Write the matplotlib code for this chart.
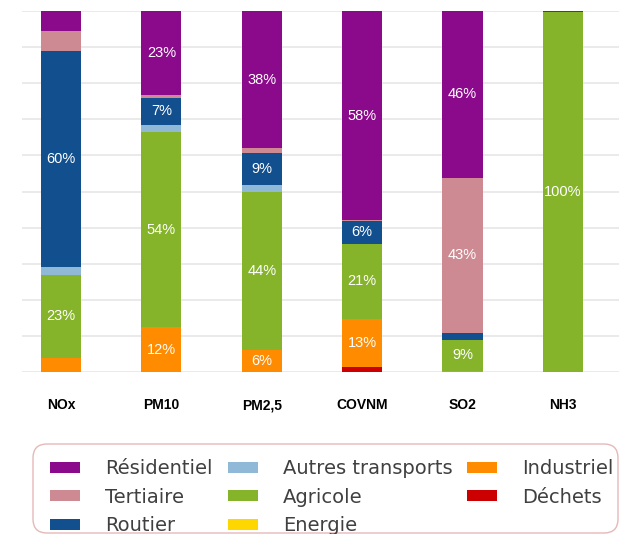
import numpy as np
import matplotlib
matplotlib.use("Agg")
import matplotlib.pyplot as plt
from matplotlib.patches import Patch, FancyBboxPatch
from matplotlib.transforms import IdentityTransform

# polluants (x axis)
polluants = ["NOx", "PM10", "PM2,5", "COVNM", "SO2", "NH3"]

# sectors, stacked from bottom to top
secteurs = ["Déchets", "Industriel", "Energie", "Agricole",
            "Autres transports", "Routier", "Tertiaire", "Résidentiel"]

# share of each sector (%) per polluant
dechets = [0, 0, 0, 1.5, 0, 0]
industriel = [4, 12.4, 6, 13.2, 0.3, 0]
energie = [0, 0, 0, 0, 0, 0]
agricole = [23, 54, 44, 20.8, 8.7, 99.7]
autres_transports = [2, 2.1, 1.7, 0, 0, 0]
routier = [60, 7.4, 9, 6.3, 1.8, 0.3]
tertiaire = [5.5, 0.7, 1.3, 0.2, 43, 0]
residentiel = [5.5, 23.4, 38, 58, 46.2, 0]

couleurs = {
    "Résidentiel": "#8b0a8b",
    "Tertiaire": "#cd8a92",
    "Routier": "#124f8e",
    "Autres transports": "#8fb9d6",
    "Agricole": "#85b32a",
    "Energie": "#ffd700",
    "Industriel": "#ff8c00",
    "Déchets": "#cc0000",
}

series = [dechets, industriel, energie, agricole,
          autres_transports, routier, tertiaire, residentiel]

W, H = 619, 534
fig = plt.figure(figsize=(W / 100, H / 100), dpi=100)
ax = fig.add_axes([22 / W, 162 / H, 597 / W, 361 / H])

x = np.arange(len(polluants))
bottom = np.zeros(len(polluants))
for nom, vals in zip(secteurs, series):
    vals = np.array(vals, dtype=float)
    ax.bar(x, vals, 0.4, bottom=bottom, color=couleurs[nom],
           edgecolor="none", zorder=2)
    for i, v in enumerate(vals):
        if v >= 5.9:
            ax.text(x[i], bottom[i] + v / 2, "%d%%" % round(v),
                    ha="center", va="center", color="white",
                    fontsize=10.5, family="Liberation Sans", zorder=3)
    bottom += vals

ax.set_xlim(-0.388, 5.558)
ax.set_ylim(0, 100)
ax.set_yticks(np.arange(0, 101, 10))
ax.yaxis.grid(True, color="#e6e6e6", linewidth=1.2, zorder=0)
ax.set_yticklabels([])
ax.tick_params(axis="y", length=0)
ax.set_xticks(x)
ax.set_xticklabels(polluants, fontsize=10, fontweight="bold",
                   family="Liberation Sans")
ax.tick_params(axis="x", length=0, pad=19)
for s in ax.spines.values():
    s.set_visible(False)

# rounded frame around the legend (pixel coords, origin bottom left)
cadre = FancyBboxPatch((33, 1), 585, 89,
                       boxstyle="round,pad=0,rounding_size=14",
                       transform=IdentityTransform(), facecolor="none",
                       edgecolor="#e6b8b8", linewidth=1.0)
fig.patches.append(cadre)

# legend: 3 columns, filled column by column
ordre = ["Résidentiel", "Tertiaire", "Routier", "Autres transports",
         "Agricole", "Energie", "Industriel", "Déchets"]
handles = [Patch(facecolor=couleurs[n], edgecolor="none") for n in ordre]
leg = fig.legend(handles, ordre, loc="upper left", ncol=3,
                 bbox_to_anchor=(50 / W, 75 / H), borderaxespad=0,
                 prop={"family": "DejaVu Sans", "size": 14},
                 handlelength=1.55, handleheight=0.5, handletextpad=1.3,
                 columnspacing=0.75, labelspacing=0.5, borderpad=0,
                 frameon=False)
for t in leg.get_texts():
    t.set_color("#404040")

fig.savefig("out.png", dpi=100)
